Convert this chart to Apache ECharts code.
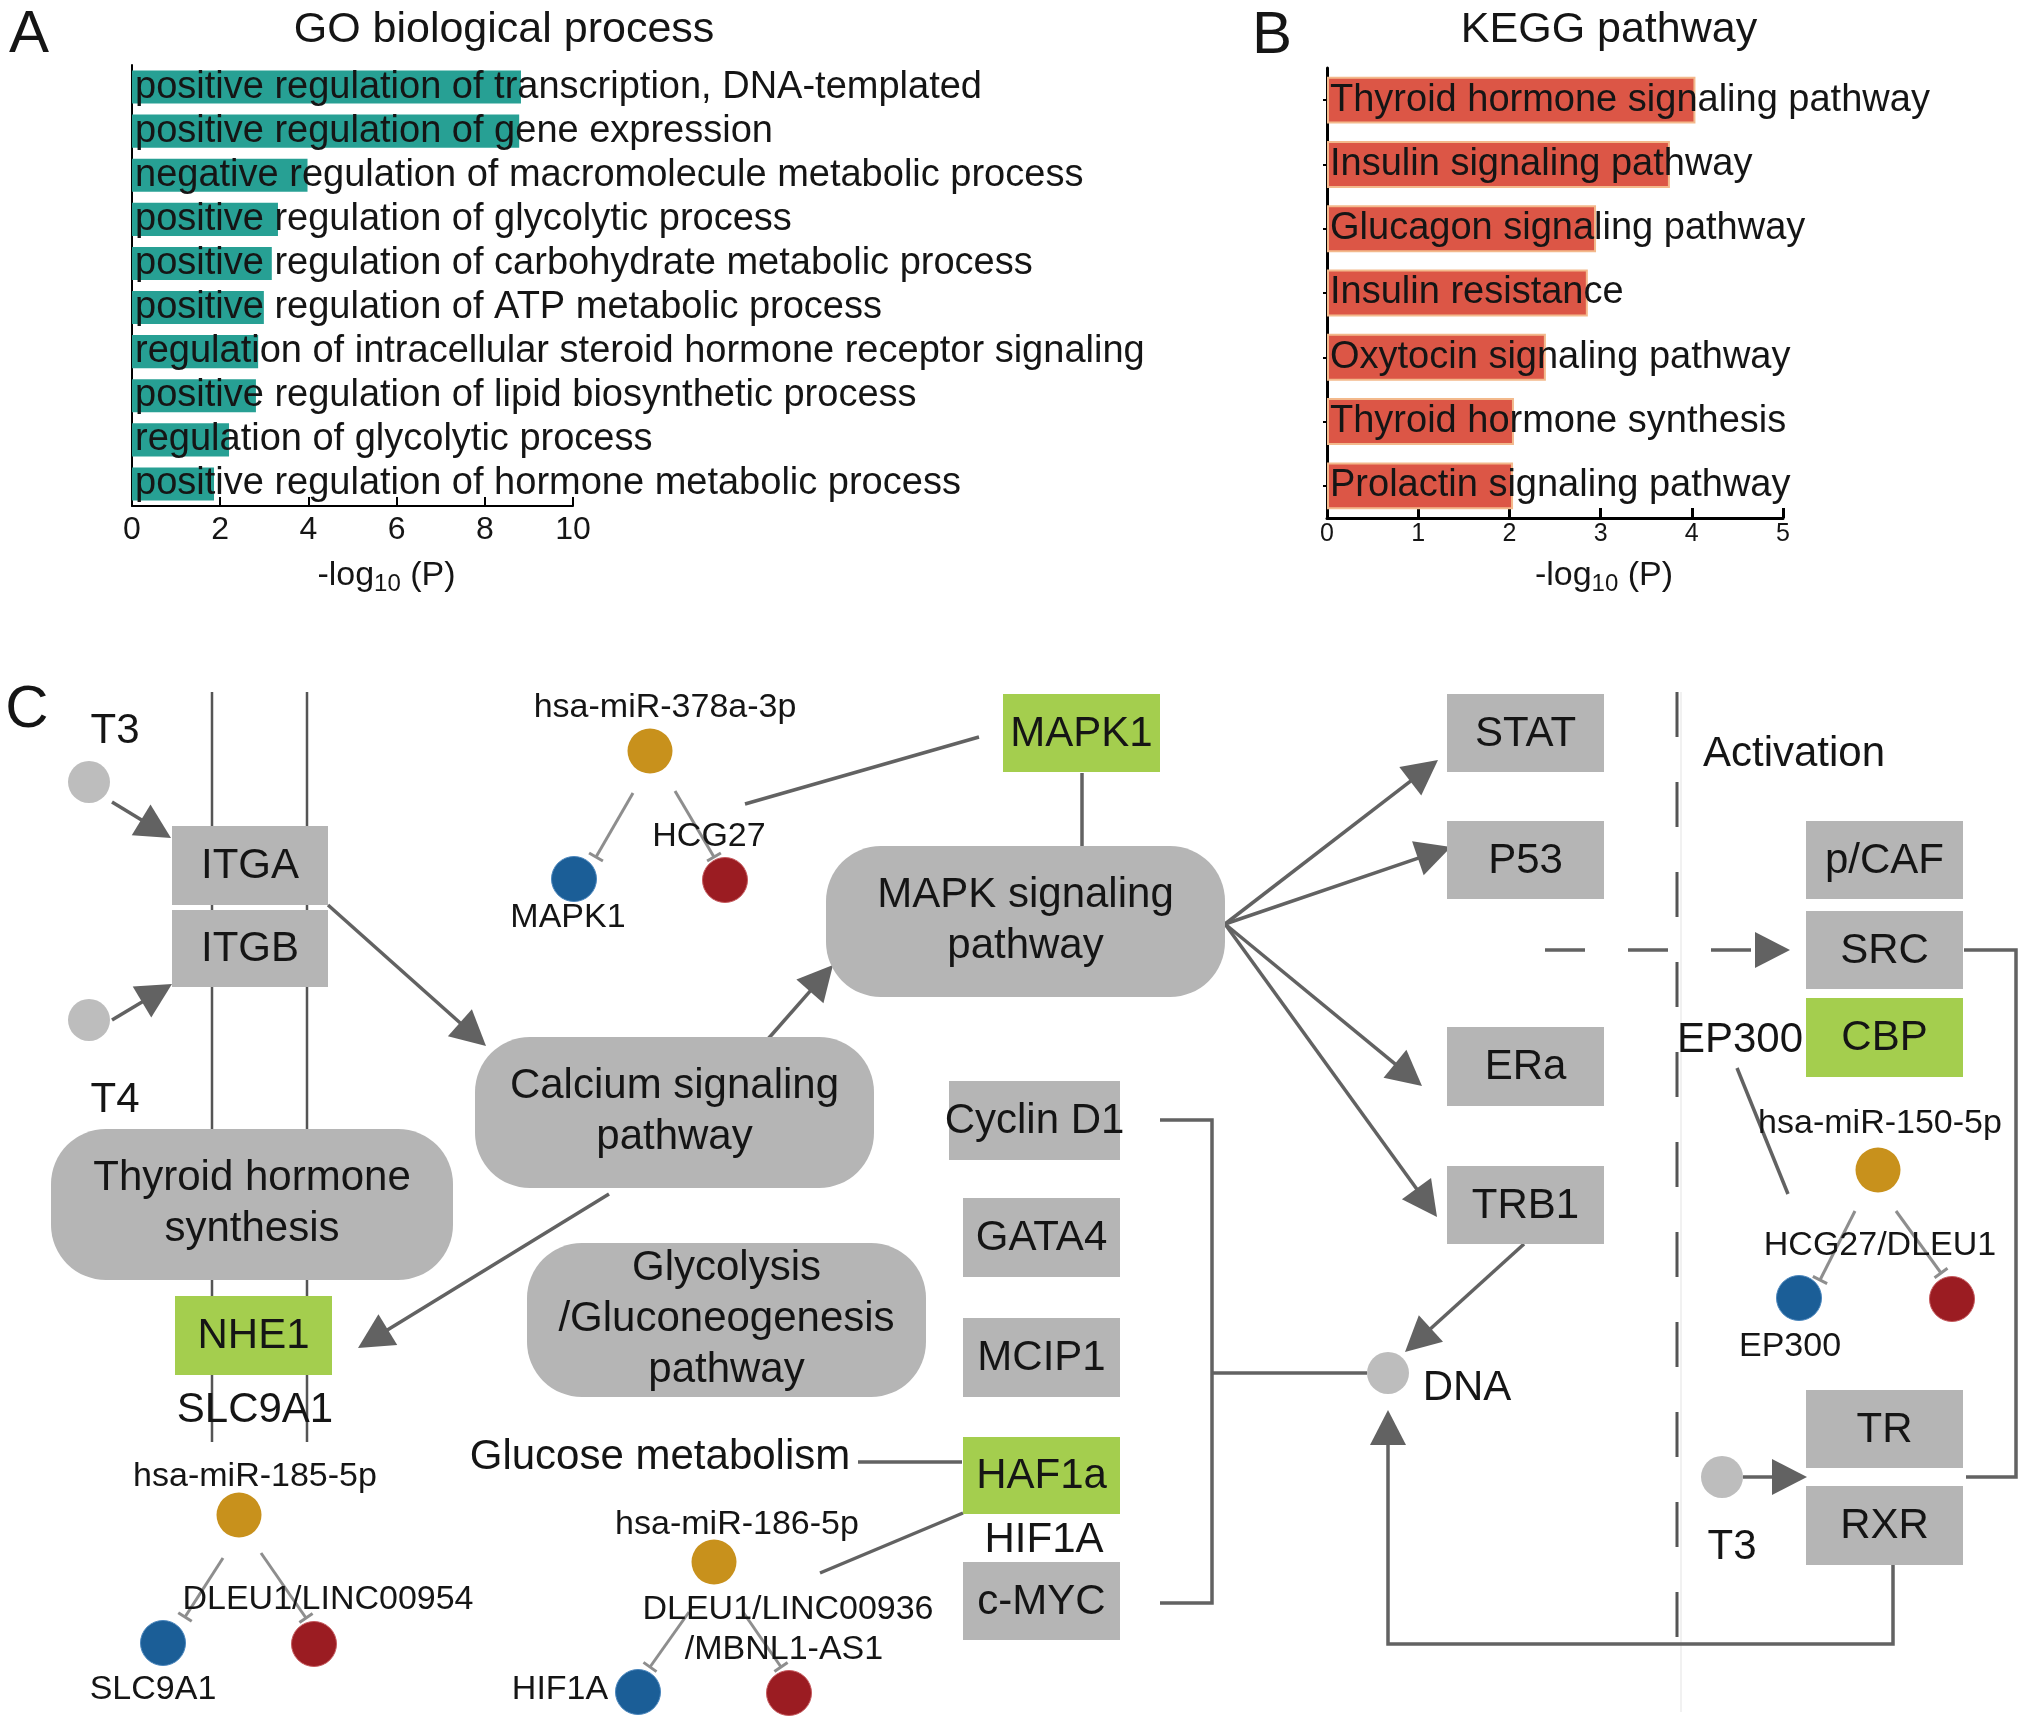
<!DOCTYPE html>
<html>
<head>
<meta charset="utf-8">
<script src="https://cdn.jsdelivr.net/npm/echarts/dist/echarts.min.js"></script>
<style>
html,body{margin:0;padding:0;background:#fff;}
#main{width:2020px;height:1729px;}
</style>
</head>
<body>
<div id="main"></div>
<script>
// ---------- Panel A data ----------
const goCategories = [
  'positive regulation of transcription, DNA-templated',
  'positive regulation of gene expression',
  'negative regulation of macromolecule metabolic process',
  'positive regulation of glycolytic process',
  'positive regulation of carbohydrate metabolic process',
  'positive regulation of ATP metabolic process',
  'regulation of intracellular steroid hormone receptor signaling',
  'positive regulation of lipid biosynthetic process',
  'regulation of glycolytic process',
  'positive regulation of hormone metabolic process'
];
const goValues = [8.82, 8.78, 3.98, 3.31, 3.17, 2.99, 2.86, 2.81, 2.2, 1.86];

// ---------- Panel B data ----------
const keggCategories = [
  'Thyroid hormone signaling pathway',
  'Insulin signaling pathway',
  'Glucagon signaling pathway',
  'Insulin resistance',
  'Oxytocin signaling pathway',
  'Thyroid hormone synthesis',
  'Prolactin signaling pathway'
];
const keggValues = [4.04, 3.76, 2.95, 2.86, 2.4, 2.05, 2.04];

// ---------- Panel C diagram (diagram coordinate space) ----------
const boxRects = [
  [172, 826, 328, 905], [172, 910, 328, 987], [1003, 694, 1160, 772],
  [1447, 694, 1604, 772], [1447, 821, 1604, 899], [1447, 1027, 1604, 1106],
  [1447, 1166, 1604, 1244], [1806, 821, 1963, 899], [1806, 911, 1963, 989],
  [1806, 998, 1963, 1077], [1806, 1390, 1963, 1468], [1806, 1486, 1963, 1565],
  [949, 1081, 1120, 1160], [963, 1198, 1120, 1277], [963, 1318, 1120, 1397],
  [963, 1437, 1120, 1514], [963, 1562, 1120, 1640], [175, 1296, 332, 1375]
];
const boxLabels = ['ITGA', 'ITGB', 'MAPK1', 'STAT', 'P53', 'ERa', 'TRB1', 'p/CAF', 'SRC',
  'CBP', 'TR', 'RXR', 'Cyclin D1', 'GATA4', 'MCIP1', 'HAF1a', 'c-MYC', 'NHE1'];
const boxKinds = ['g', 'g', 'G', 'g', 'g', 'g', 'g', 'g', 'g', 'G', 'g', 'g', 'g', 'g', 'g', 'G', 'g', 'G'];

const pillRects = [
  [51, 1129, 453, 1280], [475, 1037, 874, 1188], [826, 846, 1225, 997], [527, 1243, 926, 1397]
];
const pillLabels = [
  ['Thyroid hormone', 'synthesis'],
  ['Calcium signaling', 'pathway'],
  ['MAPK signaling', 'pathway'],
  ['Glycolysis', '/Gluconeogenesis', 'pathway']
];

const grayNodes = [[89, 782], [89, 1020], [1388, 1373], [1722, 1477]];
const goldNodes = [[650, 751], [239, 1515], [714, 1562], [1878, 1170]];
const blueNodes = [[574, 879], [163, 1643], [638, 1692], [1799, 1298]];
const redNodes = [[725, 880], [314, 1644], [789, 1693], [1952, 1299]];

const arrowPaths = [
  [[112, 802], [171, 838]],
  [[112, 1020], [172, 984]],
  [[328, 905], [486, 1046]],
  [[768, 1039], [833, 965]],
  [[609, 1194], [358, 1348]],
  [[1225, 924], [1438, 760]],
  [[1225, 924], [1451, 847]],
  [[1225, 924], [1422, 1086]],
  [[1225, 924], [1437, 1217]],
  [[1524, 1244], [1405, 1352]],
  [[1893, 1565], [1893, 1644], [1388, 1644], [1388, 1410]],
  [[1743, 1477], [1807, 1477]]
];
const dashedArrowPaths = [[[1545, 950], [1790, 950]]];
const plainPaths = [
  [[1082, 773], [1082, 846]],
  [[979, 737], [745, 804]],
  [[1160, 1120], [1212, 1120], [1212, 1603], [1160, 1603]],
  [[1212, 1373], [1367, 1373]],
  [[858, 1462], [962, 1462]],
  [[963, 1513], [820, 1573]],
  [[1737, 1068], [1788, 1194]],
  [[1964, 950], [2016, 950], [2016, 1477], [1966, 1477]]
];
const membranePaths = [[[212, 692], [212, 1442]], [[307, 692], [307, 1442]]];
const inhibitPaths = [
  [[633, 793], [596, 857]], [[675, 791], [714, 857]],
  [[223, 1558], [185, 1617]], [[261, 1553], [306, 1618]],
  [[689, 1612], [650, 1667]], [[743, 1612], [781, 1667]],
  [[1855, 1211], [1820, 1280]], [[1896, 1211], [1941, 1273]]
];
const dividerPaths = [[[1677, 692], [1677, 1675]]];
const faintPaths = [[[1681, 692], [1681, 1712]]];

const textItems = [
  [29, 35, 'A', 'L'], [1272, 36, 'B', 'L'], [27, 710, 'C', 'L'],
  [504, 30, 'GO biological process', 'T'], [1609, 30, 'KEGG pathway', 'T'],
  [115, 731, 'T3', 'b'], [115, 1100, 'T4', 'b'], [255, 1410, 'SLC9A1', 'b'],
  [660, 1457, 'Glucose metabolism', 'b'], [1044, 1540, 'HIF1A', 'b'],
  [1467, 1388, 'DNA', 'b'], [1794, 754, 'Activation', 'b'], [1740, 1040, 'EP300', 'b'],
  [1732, 1547, 'T3', 'b'],
  [665, 708, 'hsa-miR-378a-3p', 's'], [709, 837, 'HCG27', 's'], [568, 918, 'MAPK1', 's'],
  [255, 1477, 'hsa-miR-185-5p', 's'], [328, 1600, 'DLEU1/LINC00954', 's'],
  [153, 1690, 'SLC9A1', 's'], [737, 1525, 'hsa-miR-186-5p', 's'],
  [788, 1610, 'DLEU1/LINC00936', 's'], [784, 1650, '/MBNL1-AS1', 's'],
  [560, 1690, 'HIF1A', 's'], [1880, 1124, 'hsa-miR-150-5p', 's'],
  [1880, 1246, 'HCG27/DLEU1', 's'], [1790, 1347, 'EP300', 's']
];

// ---------- styles ----------
const FONT = '"Liberation Sans", Arial, Helvetica, sans-serif';
const TXT = '#151515';
const LINE = '#626262';
const textSizes = { L: 60, T: 43, b: 42, s: 34 };

function lineEls(pathList, api, color, width, dash) {
  return pathList.map(p => ({
    type: 'polyline',
    shape: { points: p.map(q => api.coord(q)) },
    style: { stroke: color, lineWidth: width, fill: null, lineDash: dash || null }
  }));
}
function arrowEls(p, api, dash) {
  const pts = p.map(q => api.coord(q));
  const n = pts.length;
  const tip = pts[n - 1], prev = pts[n - 2];
  let dx = tip[0] - prev[0], dy = tip[1] - prev[1];
  const len = Math.sqrt(dx * dx + dy * dy);
  dx /= len; dy /= len;
  const L = 35, W = 36;
  const base = [tip[0] - dx * L, tip[1] - dy * L];
  const linePts = pts.slice(0, n - 1).concat([[base[0] + dx * 2, base[1] + dy * 2]]);
  const px = -dy, py = dx;
  return [
    { type: 'polyline', shape: { points: linePts },
      style: { stroke: LINE, lineWidth: 3.5, fill: null, lineDash: dash || null } },
    { type: 'polygon', shape: { points: [tip, [base[0] + px * W / 2, base[1] + py * W / 2], [base[0] - px * W / 2, base[1] - py * W / 2]] },
      style: { fill: LINE } }
  ];
}
function inhibitEls(p, api) {
  const a = api.coord(p[0]), b = api.coord(p[1]);
  let dx = b[0] - a[0], dy = b[1] - a[1];
  const len = Math.sqrt(dx * dx + dy * dy);
  dx /= len; dy /= len;
  const px = -dy * 8, py = dx * 8;
  return [
    { type: 'line', shape: { x1: a[0], y1: a[1], x2: b[0], y2: b[1] }, style: { stroke: '#8e8e8e', lineWidth: 3 } },
    { type: 'line', shape: { x1: b[0] + px, y1: b[1] + py, x2: b[0] - px, y2: b[1] - py }, style: { stroke: '#8e8e8e', lineWidth: 3 } }
  ];
}

const chart = echarts.init(document.getElementById('main'), null, { renderer: 'canvas' });

const axisNameRich = function (big, sub) {
  return {
    a: { fontSize: big, color: TXT, fontFamily: FONT, lineHeight: big + 6 },
    s: { fontSize: sub, color: TXT, fontFamily: FONT, verticalAlign: 'bottom', lineHeight: sub }
  };
};

const option = {
  backgroundColor: '#ffffff',
  animation: false,
  grid: [
    { left: 132, top: 65, width: 441, height: 441 },
    { left: 1327, top: 68, width: 456, height: 450 },
    { left: 0, top: 0, width: 2020, height: 1729 }
  ],
  xAxis: [
    {
      gridIndex: 0, type: 'value', min: 0, max: 10, interval: 2,
      axisLine: { show: true, lineStyle: { color: '#000', width: 2 } },
      axisTick: { show: true, inside: true, length: 9, lineStyle: { color: '#000', width: 2 } },
      axisLabel: { fontSize: 32, color: TXT, fontFamily: FONT, margin: 8 },
      splitLine: { show: false },
      name: '{a|-log}{s|10}{a| (P)}', nameLocation: 'middle', nameGap: 50,
      nameTextStyle: { rich: axisNameRich(34, 24), padding: [0, 0, 0, 68] }
    },
    {
      gridIndex: 1, type: 'value', min: 0, max: 5, interval: 1,
      axisLine: { show: true, lineStyle: { color: '#000', width: 3 } },
      axisTick: { show: true, inside: true, length: 10, lineStyle: { color: '#000', width: 3 } },
      axisLabel: { fontSize: 25, color: TXT, fontFamily: FONT, margin: 4 },
      splitLine: { show: false },
      name: '{a|-log}{s|10}{a| (P)}', nameLocation: 'middle', nameGap: 38,
      nameTextStyle: { rich: axisNameRich(34, 24), padding: [0, 0, 0, 98] }
    },
    { gridIndex: 2, type: 'value', min: 0, max: 2020, show: false }
  ],
  yAxis: [
    {
      gridIndex: 0, type: 'category', inverse: true, data: goCategories,
      axisLine: { show: true, lineStyle: { color: '#000', width: 2 } },
      axisTick: { show: false }, axisLabel: { show: false }
    },
    {
      gridIndex: 1, type: 'category', inverse: true, data: keggCategories,
      axisLine: { show: true, lineStyle: { color: '#000', width: 3 } },
      axisTick: { show: true, length: 4, alignWithLabel: true, lineStyle: { color: '#000', width: 2 } },
      axisLabel: { show: false }
    },
    { gridIndex: 2, type: 'value', min: 0, max: 1729, inverse: true, show: false }
  ],
  series: [
    {
      type: 'bar', xAxisIndex: 0, yAxisIndex: 0, data: goValues, barCategoryGap: '25%',
      itemStyle: { color: '#27a094' },
      label: { show: true, position: 'insideLeft', distance: 3, formatter: '{b}', fontSize: 38, color: TXT, fontFamily: FONT },
      z: 3
    },
    {
      type: 'bar', xAxisIndex: 1, yAxisIndex: 1, data: keggValues, barCategoryGap: '27%',
      itemStyle: { color: '#dc5646', borderColor: '#f3b98c', borderWidth: 2 },
      label: { show: true, position: 'insideLeft', distance: 3, formatter: '{b}', fontSize: 38, color: TXT, fontFamily: FONT },
      z: 3
    },
    // edges
    {
      type: 'custom', xAxisIndex: 2, yAxisIndex: 2, z: 1, silent: true,
      data: [[0, 0]],
      renderItem: function (params, api) {
        let children = [];
        children = children.concat(lineEls(faintPaths, api, '#ececec', 1.5));
        children = children.concat(lineEls(dividerPaths, api, '#555', 3, [45, 45]));
        children = children.concat(lineEls(membranePaths, api, '#555', 2.5));
        children = children.concat(lineEls(plainPaths, api, LINE, 3.5));
        arrowPaths.forEach(p => { children = children.concat(arrowEls(p, api)); });
        dashedArrowPaths.forEach(p => { children = children.concat(arrowEls(p, api, [40, 43])); });
        inhibitPaths.forEach(p => { children = children.concat(inhibitEls(p, api)); });
        return { type: 'group', children: children };
      }
    },
    // boxes
    {
      type: 'custom', xAxisIndex: 2, yAxisIndex: 2, z: 2, silent: true,
      data: boxRects.map((r, i) => [r[0], r[1], i]),
      renderItem: function (params, api) {
        const i = params.dataIndex, r = boxRects[i];
        const p1 = api.coord([r[0], r[1]]), p2 = api.coord([r[2], r[3]]);
        return {
          type: 'group',
          children: [
            { type: 'rect', shape: { x: p1[0], y: p1[1], width: p2[0] - p1[0], height: p2[1] - p1[1] },
              style: { fill: boxKinds[i] === 'G' ? '#a4ce4e' : '#b5b5b5' } },
            { type: 'text', x: (p1[0] + p2[0]) / 2, y: (p1[1] + p2[1]) / 2 + 1,
              style: { text: boxLabels[i], fontSize: 42, fontFamily: FONT, fill: TXT,
                align: 'center', verticalAlign: 'middle', textAlign: 'center', textVerticalAlign: 'middle' } }
          ]
        };
      }
    },
    // pills
    {
      type: 'custom', xAxisIndex: 2, yAxisIndex: 2, z: 2, silent: true,
      data: pillRects.map((r, i) => [r[0], r[1], i]),
      renderItem: function (params, api) {
        const i = params.dataIndex, r = pillRects[i];
        const p1 = api.coord([r[0], r[1]]), p2 = api.coord([r[2], r[3]]);
        const lines = pillLabels[i];
        const lh = 51;
        const cy = (p1[1] + p2[1]) / 2 - 1;
        const children = [
          { type: 'rect', shape: { x: p1[0], y: p1[1], width: p2[0] - p1[0], height: p2[1] - p1[1], r: 55 },
            style: { fill: '#b5b5b5' } }
        ];
        lines.forEach((t, k) => {
          children.push({ type: 'text', x: (p1[0] + p2[0]) / 2, y: cy + (k - (lines.length - 1) / 2) * lh,
            style: { text: t, fontSize: 42, fontFamily: FONT, fill: TXT,
              align: 'center', verticalAlign: 'middle', textAlign: 'center', textVerticalAlign: 'middle' } });
        });
        return { type: 'group', children: children };
      }
    },
    // nodes
    { type: 'scatter', xAxisIndex: 2, yAxisIndex: 2, z: 3, silent: true, data: grayNodes, symbolSize: 42,
      itemStyle: { color: '#bdbdbd', opacity: 1 } },
    { type: 'scatter', xAxisIndex: 2, yAxisIndex: 2, z: 3, silent: true, data: goldNodes, symbolSize: 45,
      itemStyle: { color: '#c8911c', opacity: 1 } },
    { type: 'scatter', xAxisIndex: 2, yAxisIndex: 2, z: 3, silent: true, data: blueNodes, symbolSize: 45,
      itemStyle: { color: '#1b5e97', borderColor: '#4a86bd', borderWidth: 1, opacity: 1 } },
    { type: 'scatter', xAxisIndex: 2, yAxisIndex: 2, z: 3, silent: true, data: redNodes, symbolSize: 45,
      itemStyle: { color: '#9b1c22', borderColor: '#c65a5e', borderWidth: 1, opacity: 1 } },
    // texts
    {
      type: 'custom', xAxisIndex: 2, yAxisIndex: 2, z: 4, silent: true,
      data: textItems.map((t, i) => [t[0], t[1], i]),
      renderItem: function (params, api) {
        const t = textItems[params.dataIndex];
        const p = api.coord([t[0], t[1]]);
        return { type: 'text', x: p[0], y: p[1],
          style: { text: t[2], fontSize: textSizes[t[3]], fontFamily: FONT, fill: TXT,
            align: 'center', verticalAlign: 'middle', textAlign: 'center', textVerticalAlign: 'middle' } };
      }
    }
  ]
};
chart.setOption(option);
</script>
</body>
</html>
